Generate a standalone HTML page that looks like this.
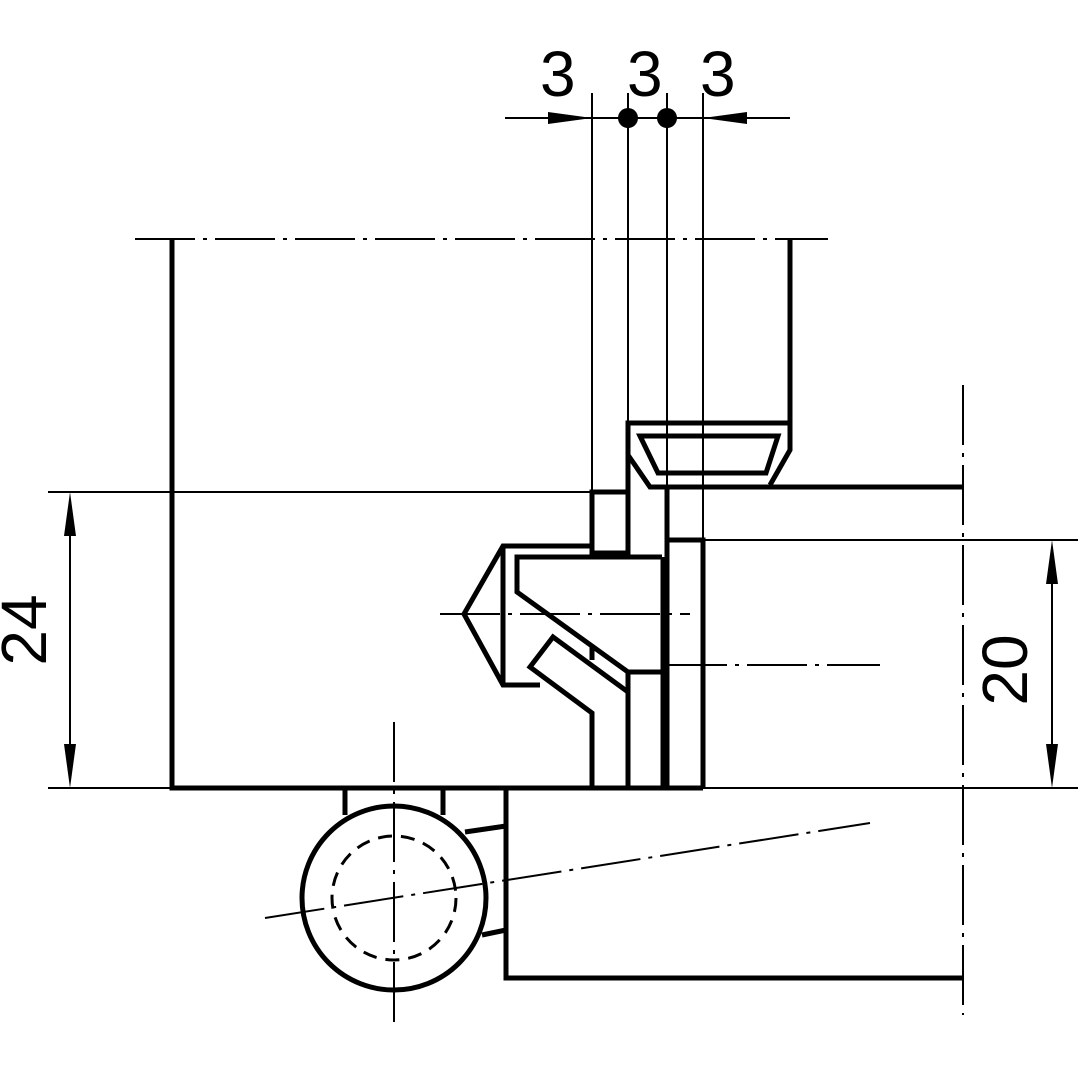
<!DOCTYPE html>
<html><head><style>html,body{margin:0;padding:0;background:#fff}</style></head><body>
<svg width="1080" height="1080" viewBox="0 0 1080 1080" xmlns="http://www.w3.org/2000/svg">
<rect width="1080" height="1080" fill="#fff"/>
<g stroke="#000" fill="none" stroke-linecap="butt">
<g stroke-width="2">
<line x1="48" y1="492" x2="592" y2="492"/>
<line x1="48" y1="788" x2="172" y2="788"/>
<line x1="703" y1="788" x2="1078" y2="788"/>
<line x1="703" y1="540" x2="1078" y2="540"/>
<line x1="70" y1="500" x2="70" y2="780"/>
<line x1="1052" y1="548" x2="1052" y2="780"/>
<line x1="592" y1="93" x2="592" y2="492"/>
<line x1="628" y1="93" x2="628" y2="423"/>
<line x1="667" y1="93" x2="667" y2="487"/>
<line x1="703" y1="93" x2="703" y2="540"/>
<line x1="505" y1="118" x2="790" y2="118"/>
<g stroke-dasharray="60,8,4,8">
<line x1="135" y1="239" x2="828" y2="239"/>
<line x1="963" y1="385" x2="963" y2="1015"/>
<line x1="440" y1="614" x2="690" y2="614"/>
<line x1="667" y1="665" x2="880" y2="665"/>
<line x1="394" y1="722" x2="394" y2="1030"/>
<line x1="265" y1="918" x2="870" y2="823"/>
</g>
</g>
<g stroke-width="5" stroke-linejoin="miter">
<polyline points="172,238 172,788 703,788"/>
<line x1="790" y1="238" x2="790" y2="450"/>
<polyline points="628,490 628,423 790,423 790,450 770,485"/>
<polyline points="628,455 650,487 963,487"/>
<polygon points="640,436 778,436 766,473 658,473"/>
<rect x="592" y="492" width="36" height="61"/>
<polyline points="592,546 503,546 464,614 503,685 540,685"/>
<line x1="503" y1="546" x2="503" y2="685"/>
<polyline points="592,553 592,557 517,557 517,592 628,672 662,672"/>
<line x1="592" y1="557" x2="662" y2="557"/>
<polyline points="628,692 553,637 530,667 592,713 592,788"/>
<line x1="592" y1="645" x2="592" y2="660"/>
<line x1="628" y1="672" x2="628" y2="788"/>
<line x1="663" y1="557" x2="663" y2="788"/>
<line x1="667" y1="487" x2="667" y2="788"/>
<polyline points="667,540 703,540 703,788"/>
<line x1="345" y1="788" x2="345" y2="815"/>
<line x1="443" y1="788" x2="443" y2="815"/>
<circle cx="394" cy="898" r="92"/>
<polyline points="506,788 506,978 963,978"/>
<line x1="465" y1="832" x2="506" y2="826"/>
<line x1="482" y1="935" x2="506" y2="930"/>
</g>
<circle cx="394" cy="898" r="62" stroke-width="3" stroke-dasharray="14,9"/>
</g>
<g fill="#000">
<polygon points="548,112 592,118 548,124"/>
<polygon points="747,112 703,118 747,124"/>
<circle cx="628" cy="118" r="10"/>
<circle cx="667" cy="118" r="10"/>
<polygon points="64,536 70,492 76,536"/>
<polygon points="64,744 70,788 76,744"/>
<polygon points="1046,584 1052,540 1058,584"/>
<polygon points="1046,744 1052,788 1058,744"/>
</g>
<g font-family="Liberation Sans, sans-serif" font-size="64" fill="#000">
<text x="540" y="96">3</text>
<text x="627" y="96">3</text>
<text x="700" y="96">3</text>
<text transform="translate(46,630) rotate(-90)" text-anchor="middle">24</text>
<text transform="translate(1027,670) rotate(-90)" text-anchor="middle">20</text>
</g>
</svg>
</body></html>
